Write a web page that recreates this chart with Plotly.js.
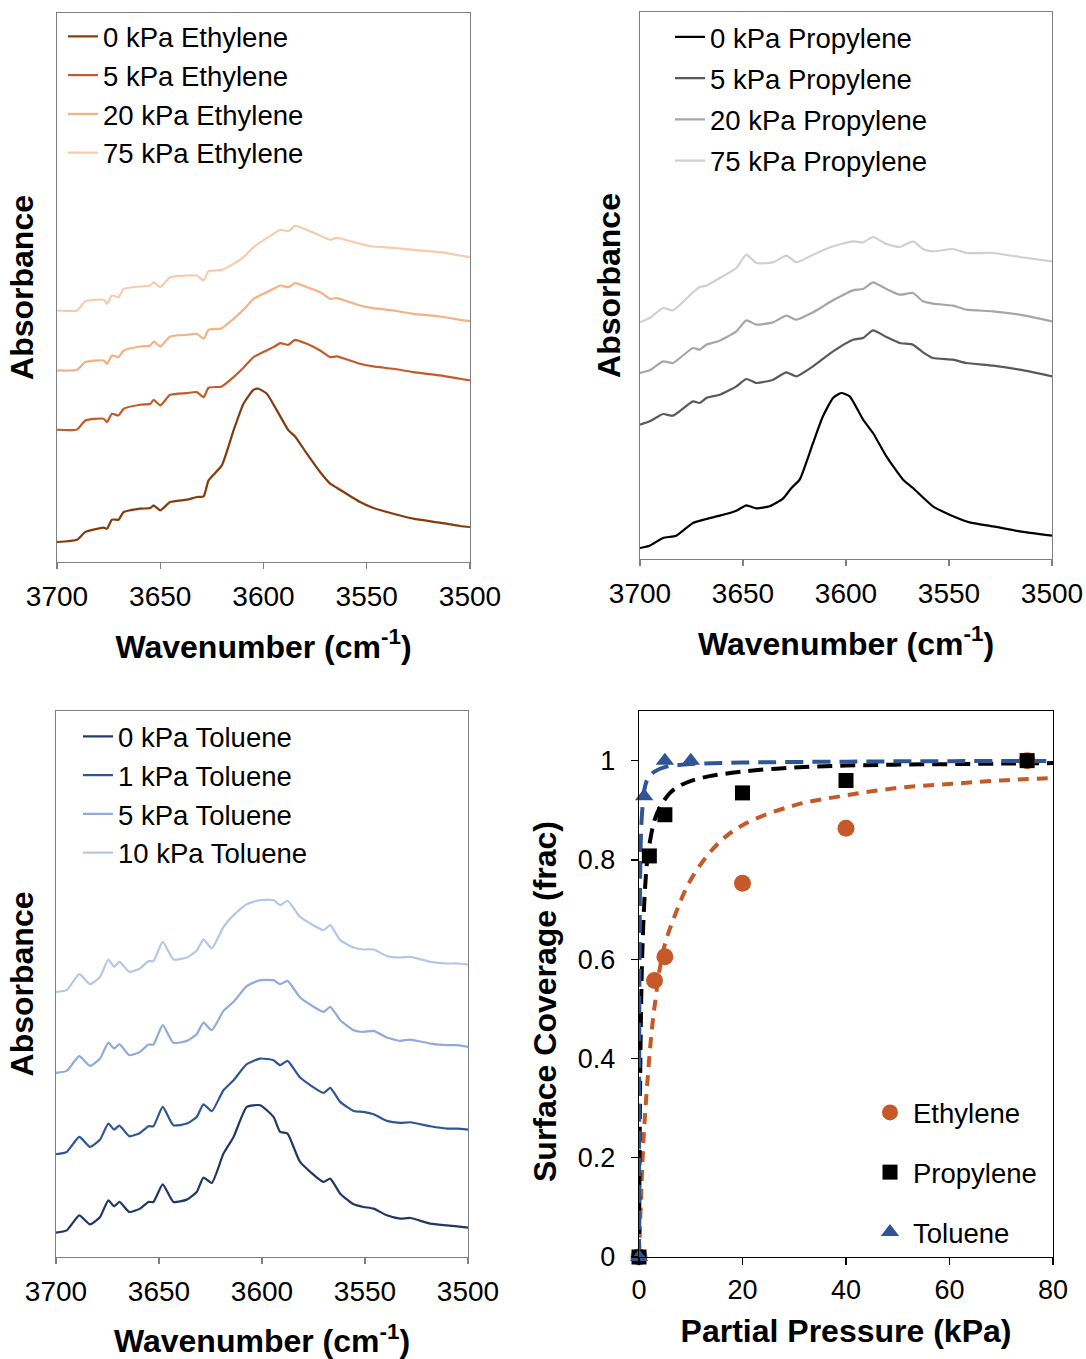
<!DOCTYPE html>
<html>
<head>
<meta charset="utf-8">
<script src="https://cdn.plot.ly/plotly-3.0.1.min.js"></script>
<style>html,body{margin:0;padding:0;background:#fff;}#chart{width:1086px;height:1359px;}</style>
</head>
<body>
<div id="chart"></div>
<script>
// ---------- Ethylene spectra ----------
const wnEthylene0 = [3700, 3690.3, 3686.3, 3677.4, 3675.8, 3673.4, 3670.2, 3667.7, 3659.7, 3654.8, 3653.2, 3650, 3645.2, 3637.1, 3632.3, 3629, 3626.6, 3620.2, 3614.5, 3609.7, 3604.8, 3602.4, 3598.4, 3593.5, 3587.9, 3584.7, 3579, 3572.6, 3567.7, 3564.5, 3553.2, 3546.8, 3537.1, 3527.4, 3514.5, 3504.8, 3500];
const absEthylene0 = [0.060, 0.067, 0.090, 0.103, 0.100, 0.127, 0.127, 0.150, 0.160, 0.162, 0.170, 0.155, 0.180, 0.187, 0.195, 0.197, 0.245, 0.290, 0.395, 0.475, 0.517, 0.520, 0.505, 0.455, 0.395, 0.377, 0.325, 0.270, 0.235, 0.223, 0.180, 0.162, 0.145, 0.130, 0.118, 0.108, 0.105];
const wnEthylene = [3700, 3690.3, 3686.3, 3677.4, 3675.8, 3673.4, 3670.2, 3667.7, 3659.7, 3654.8, 3653.2, 3650, 3645.2, 3637.1, 3632.3, 3629, 3626.6, 3620.2, 3614.5, 3609.7, 3604.8, 3595.2, 3591.9, 3587.9, 3584.7, 3579, 3572.6, 3567.7, 3564.5, 3553.2, 3546.8, 3537.1, 3527.4, 3514.5, 3504.8, 3500];
const absEthylene5 = [0.397, 0.398, 0.425, 0.430, 0.420, 0.445, 0.440, 0.460, 0.472, 0.475, 0.487, 0.470, 0.502, 0.507, 0.510, 0.495, 0.523, 0.527, 0.555, 0.583, 0.615, 0.645, 0.657, 0.652, 0.667, 0.655, 0.635, 0.615, 0.617, 0.595, 0.587, 0.580, 0.570, 0.560, 0.550, 0.545];
const absEthylene20 = [0.575, 0.577, 0.600, 0.605, 0.595, 0.620, 0.615, 0.635, 0.647, 0.650, 0.662, 0.647, 0.677, 0.682, 0.685, 0.670, 0.697, 0.702, 0.730, 0.757, 0.790, 0.820, 0.830, 0.825, 0.837, 0.825, 0.810, 0.790, 0.792, 0.770, 0.762, 0.755, 0.745, 0.737, 0.727, 0.723];
const absEthylene75 = [0.755, 0.755, 0.783, 0.787, 0.775, 0.800, 0.795, 0.820, 0.827, 0.830, 0.840, 0.825, 0.855, 0.860, 0.860, 0.845, 0.873, 0.877, 0.895, 0.915, 0.945, 0.985, 0.997, 0.993, 1.009, 0.997, 0.980, 0.967, 0.973, 0.955, 0.947, 0.943, 0.937, 0.930, 0.920, 0.915];

// ---------- Propylene spectra ----------
const wnPropylene0 = [3700, 3695.3, 3688.8, 3682.4, 3674.3, 3667.8, 3661.3, 3653.2, 3648.4, 3643.5, 3637.1, 3630.6, 3626.5, 3622.5, 3616, 3611.2, 3606.3, 3602.3, 3598.2, 3591.7, 3586.9, 3580.4, 3572.3, 3567.5, 3557.8, 3549.7, 3540, 3528.6, 3515.7, 3500];
const absPropylene0 = [0.033, 0.040, 0.063, 0.070, 0.108, 0.120, 0.130, 0.145, 0.161, 0.152, 0.158, 0.181, 0.213, 0.238, 0.348, 0.428, 0.483, 0.498, 0.488, 0.418, 0.378, 0.308, 0.238, 0.213, 0.158, 0.133, 0.110, 0.098, 0.083, 0.070];
const wnPropylene = [3700, 3695.3, 3688.8, 3684, 3674.3, 3671.0, 3667.8, 3661.3, 3653.2, 3648.4, 3643.5, 3635.4, 3629.0, 3624.1, 3616.0, 3606.3, 3596.6, 3591.7, 3586.9, 3580.4, 3573.9, 3567.5, 3562.6, 3557.8, 3548.1, 3541.6, 3528.6, 3515.7, 3500];
const absPropylene5 = [0.403, 0.413, 0.435, 0.430, 0.473, 0.468, 0.483, 0.493, 0.518, 0.540, 0.528, 0.538, 0.560, 0.548, 0.578, 0.623, 0.658, 0.663, 0.686, 0.666, 0.648, 0.643, 0.620, 0.603, 0.598, 0.588, 0.580, 0.568, 0.548];
const absPropylene20 = [0.558, 0.566, 0.593, 0.588, 0.633, 0.628, 0.643, 0.655, 0.683, 0.716, 0.703, 0.710, 0.730, 0.718, 0.740, 0.776, 0.806, 0.810, 0.830, 0.810, 0.793, 0.798, 0.773, 0.766, 0.760, 0.748, 0.743, 0.733, 0.713];
const absPropylene75 = [0.710, 0.723, 0.753, 0.746, 0.800, 0.816, 0.820, 0.843, 0.873, 0.913, 0.888, 0.890, 0.910, 0.890, 0.913, 0.938, 0.953, 0.950, 0.966, 0.945, 0.936, 0.953, 0.930, 0.923, 0.930, 0.918, 0.918, 0.906, 0.893];

// ---------- Toluene spectra ----------
const wnToluene = [3700, 3694.8, 3688.7, 3683.5, 3678.6, 3674.6, 3671.8, 3669.2, 3664.4, 3659.2, 3655.1, 3652.7, 3648.2, 3643.0, 3636.5, 3631.7, 3628.4, 3624.4, 3618.7, 3613.8, 3607.4, 3600.9, 3594.4, 3591.2, 3587.6, 3581.5, 3570.1, 3566.9, 3562.0, 3555.5, 3550.7, 3545.8, 3539.4, 3532.9, 3528.0, 3518.3, 3510.2, 3505.3, 3500];
const absToluene0 = [0.073, 0.080, 0.125, 0.098, 0.120, 0.170, 0.152, 0.165, 0.135, 0.145, 0.165, 0.165, 0.218, 0.165, 0.172, 0.195, 0.238, 0.222, 0.310, 0.360, 0.450, 0.455, 0.420, 0.375, 0.370, 0.285, 0.225, 0.235, 0.190, 0.158, 0.150, 0.145, 0.125, 0.115, 0.117, 0.100, 0.095, 0.092, 0.088];
const absToluene1 = [0.308, 0.315, 0.360, 0.330, 0.352, 0.400, 0.382, 0.394, 0.362, 0.372, 0.392, 0.392, 0.450, 0.395, 0.400, 0.420, 0.458, 0.437, 0.500, 0.530, 0.578, 0.595, 0.590, 0.575, 0.588, 0.538, 0.492, 0.507, 0.465, 0.438, 0.435, 0.428, 0.408, 0.402, 0.404, 0.392, 0.385, 0.385, 0.382];
const absToluene5 = [0.552, 0.558, 0.602, 0.573, 0.595, 0.643, 0.625, 0.638, 0.605, 0.615, 0.637, 0.637, 0.695, 0.642, 0.648, 0.668, 0.703, 0.680, 0.738, 0.765, 0.812, 0.830, 0.830, 0.818, 0.828, 0.778, 0.735, 0.750, 0.710, 0.680, 0.675, 0.678, 0.658, 0.648, 0.652, 0.640, 0.635, 0.635, 0.630];
const absToluene10 = [0.795, 0.800, 0.848, 0.818, 0.840, 0.892, 0.870, 0.885, 0.855, 0.865, 0.887, 0.887, 0.945, 0.892, 0.898, 0.918, 0.952, 0.925, 0.990, 1.025, 1.058, 1.070, 1.070, 1.055, 1.068, 1.020, 0.980, 0.995, 0.950, 0.928, 0.922, 0.922, 0.902, 0.898, 0.900, 0.885, 0.880, 0.880, 0.877];

// ---------- Surface coverage ----------
const pEthylene = [0, 3, 5, 20, 40, 75];
const covEthylene = [0, 0.557, 0.605, 0.753, 0.864, 1.0];
const pPropylene = [0, 2, 5, 20, 40, 75];
const covPropylene = [0, 0.808, 0.891, 0.935, 0.960, 1.0];
const pToluene = [0, 1, 5, 10];
const covToluene = [0, 0.928, 1.0, 1.0];

const pFitEthylene = [0, 0.5, 1, 1.75, 2.5, 3.2, 4, 5, 7, 10, 15, 20, 30, 40, 50, 60, 70, 80];
const covFitEthylene = [0, 0.15, 0.26, 0.37, 0.46, 0.52, 0.58, 0.63, 0.69, 0.76, 0.83, 0.87, 0.91, 0.93, 0.945, 0.953, 0.96, 0.965];
const pFitPropylene = [0, 0.2, 0.4, 0.6, 1, 1.5, 2, 3, 4, 6, 8, 12, 20, 30, 40, 50, 60, 70, 80];
const covFitPropylene = [0, 0.33, 0.5, 0.6, 0.71, 0.79, 0.83, 0.88, 0.905, 0.935, 0.95, 0.965, 0.978, 0.986, 0.99, 0.992, 0.993, 0.994, 0.995];
const pFitToluene = [0, 0.02, 0.05, 0.1, 0.2, 0.35, 0.5, 0.7, 1, 1.75, 3, 5, 10, 20, 40, 60, 80];
const covFitToluene = [0, 0.23, 0.43, 0.6, 0.75, 0.84, 0.88, 0.91, 0.94, 0.965, 0.978, 0.987, 0.993, 0.996, 0.998, 0.999, 0.999];

const wnTicks = [3700, 3650, 3600, 3550, 3500];
const covTicks = [0, 0.2, 0.4, 0.6, 0.8, 1];
const covTickText = ['0', '0.2', '0.4', '0.6', '0.8', '1'];
const pTicks = [0, 20, 40, 60, 80];

const FONT = 'Liberation Sans, Arial, Helvetica, sans-serif';
const W = 1086, H = 1359;
const px = v => v / W;
const py = v => 1 - v / H;

function spec(x, y, name, color, xa, ya, leg, grp) {
  return {x: x, y: y, name: name, type: 'scatter', mode: 'lines', xaxis: xa, yaxis: ya,
    legend: leg, legendgroup: grp, line: {color: color, width: 2.2, shape: 'spline', smoothing: 0.5}, hoverinfo: 'skip'};
}

const traces = [
  spec(wnEthylene0, absEthylene0, '0 kPa Ethylene', '#843C0C', 'x', 'y', 'legend', 'e0'),
  spec(wnEthylene, absEthylene5, '5 kPa Ethylene', '#C55A28', 'x', 'y', 'legend', 'e5'),
  spec(wnEthylene, absEthylene20, '20 kPa Ethylene', '#F4B183', 'x', 'y', 'legend', 'e20'),
  spec(wnEthylene, absEthylene75, '75 kPa Ethylene', '#F8CBAD', 'x', 'y', 'legend', 'e75'),
  spec(wnPropylene0, absPropylene0, '0 kPa Propylene', '#000000', 'x2', 'y2', 'legend2', 'p0'),
  spec(wnPropylene, absPropylene5, '5 kPa Propylene', '#595959', 'x2', 'y2', 'legend2', 'p5'),
  spec(wnPropylene, absPropylene20, '20 kPa Propylene', '#A6A6A6', 'x2', 'y2', 'legend2', 'p20'),
  spec(wnPropylene, absPropylene75, '75 kPa Propylene', '#D0D0D0', 'x2', 'y2', 'legend2', 'p75'),
  spec(wnToluene, absToluene0, '0 kPa Toluene', '#1F3864', 'x3', 'y3', 'legend3', 't0'),
  spec(wnToluene, absToluene1, '1 kPa Toluene', '#2F5597', 'x3', 'y3', 'legend3', 't1'),
  spec(wnToluene, absToluene5, '5 kPa Toluene', '#8FAADC', 'x3', 'y3', 'legend3', 't5'),
  spec(wnToluene, absToluene10, '10 kPa Toluene', '#B4C7E7', 'x3', 'y3', 'legend3', 't10'),
  // fits
  {x: pFitEthylene, y: covFitEthylene, type: 'scatter', mode: 'lines', xaxis: 'x4', yaxis: 'y4', showlegend: false,
   line: {color: '#C55A28', width: 4, dash: '11px,8px', shape: 'spline'}, hoverinfo: 'skip'},
  {x: pFitPropylene, y: covFitPropylene, type: 'scatter', mode: 'lines', xaxis: 'x4', yaxis: 'y4', showlegend: false,
   line: {color: '#000000', width: 4, dash: '15px,8px', shape: 'spline'}, hoverinfo: 'skip'},
  {x: pFitToluene, y: covFitToluene, type: 'scatter', mode: 'lines', xaxis: 'x4', yaxis: 'y4', showlegend: false,
   line: {color: '#2F5597', width: 4, dash: '18px,9px', shape: 'spline'}, hoverinfo: 'skip'},
  // points
  {x: pEthylene, y: covEthylene, name: 'Ethylene', type: 'scatter', mode: 'markers', xaxis: 'x4', yaxis: 'y4',
   legend: 'legend4', legendgroup: 'ge', cliponaxis: false,
   marker: {symbol: 'circle', size: 17, color: '#C55A28'}},
  {x: pPropylene, y: covPropylene, name: 'Propylene', type: 'scatter', mode: 'markers', xaxis: 'x4', yaxis: 'y4',
   legend: 'legend4', legendgroup: 'gp', cliponaxis: false,
   marker: {symbol: 'square', size: 15, color: '#000000'}},
  {x: pToluene, y: covToluene, name: 'Toluene', type: 'scatter', mode: 'markers', xaxis: 'x4', yaxis: 'y4',
   legend: 'legend4', legendgroup: 'gt', cliponaxis: false,
   marker: {symbol: 'triangle-up', size: 16, color: '#2F5597'}}
];

const GRAY = '#808080';
function specX(domain, anchor) {
  return {domain: domain, anchor: anchor, range: [3700, 3500], tickvals: wnTicks, ticks: 'outside', ticklen: 6,
    tickcolor: GRAY, tickwidth: 1.3, showline: true, linecolor: GRAY, linewidth: 1.3, mirror: true,
    showgrid: false, zeroline: false, tickfont: {size: 28, color: '#000'}, ticklabelstandoff: 3,
    title: {text: '<b>Wavenumber (cm<sup>-1</sup>)</b>', font: {size: 32, color: '#000'}, standoff: 24}};
}
function specY(domain, anchor, range, standoff) {
  return {domain: domain, anchor: anchor, range: range, showticklabels: false, ticks: '',
    showline: true, linecolor: GRAY, linewidth: 1.3, mirror: true, showgrid: false, zeroline: false,
    title: {text: '<b>Absorbance</b>', font: {size: 32, color: '#000'}, standoff: standoff}};
}
function legendAt(x, y, gap, iw) {
  return {x: x, y: y, xanchor: 'left', yanchor: 'top', bgcolor: 'rgba(0,0,0,0)', borderwidth: 0,
    font: {size: 27.5, color: '#000', family: FONT}, itemwidth: iw || 30, traceorder: 'grouped', tracegroupgap: gap};
}

const layout = {
  width: W, height: H, margin: {l: 0, r: 0, t: 0, b: 0}, paper_bgcolor: '#fff', plot_bgcolor: '#fff',
  font: {family: FONT, color: '#000'},
  showlegend: true,
  xaxis: specX([px(57), px(470)], 'y'),
  yaxis: specY([py(562), py(13)], 'x', [0, 1.648], 12),
  xaxis2: specX([px(640), px(1052)], 'y2'),
  yaxis2: specY([py(559), py(12)], 'x2', [0, 1.641], 8),
  xaxis3: specX([px(56), px(468)], 'y3'),
  yaxis3: specY([py(1257), py(711)], 'x3', [0, 1.637], 11),
  xaxis4: {domain: [px(639), px(1053)], anchor: 'y4', range: [0, 80], tickvals: pTicks, ticks: 'outside', ticklen: 7,
    tickcolor: '#000', tickwidth: 1.3, showline: true, linecolor: '#000', linewidth: 1.3, mirror: true,
    showgrid: false, zeroline: false, tickfont: {size: 27, color: '#000'}, ticklabelstandoff: 1,
    title: {text: '<b>Partial Pressure (kPa)</b>', font: {size: 32, color: '#000'}, standoff: 16}},
  yaxis4: {domain: [py(1257), py(711)], anchor: 'x4', range: [0, 1.1], tickvals: covTicks, ticktext: covTickText,
    ticks: 'outside', ticklen: 7, tickcolor: '#000', tickwidth: 1.3, showline: true, linecolor: '#000', linewidth: 1.3,
    mirror: true, showgrid: false, zeroline: false, tickfont: {size: 27, color: '#000'}, ticklabelstandoff: 10},
  annotations: [{text: '<b>Surface Coverage (frac)</b>', xref: 'paper', yref: 'paper', x: px(545), y: py(1002),
    xanchor: 'center', yanchor: 'middle', textangle: -90, showarrow: false, font: {size: 32, color: '#000', family: FONT}}],
  legend: legendAt(px(63), py(12), 0),
  legend2: legendAt(px(670), py(12.5), 2.5),
  legend3: legendAt(px(78), py(712), 0),
  legend4: legendAt(px(867), py(1088), 21, 36)
};

Plotly.newPlot('chart', traces, layout, {staticPlot: true, displayModeBar: false});
</script>
</body>
</html>
